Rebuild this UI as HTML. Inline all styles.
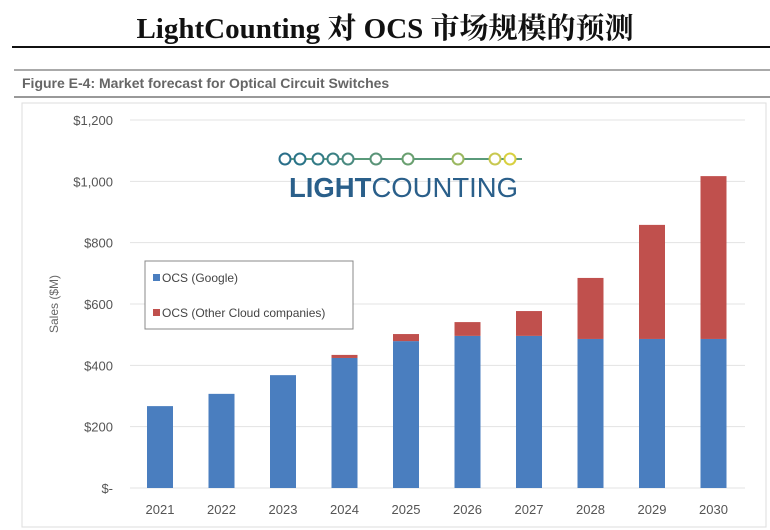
<!DOCTYPE html>
<html><head><meta charset="utf-8"><style>
body{margin:0;background:#fff;width:770px;height:530px;overflow:hidden;position:relative;font-family:"Liberation Sans",sans-serif}
</style></head><body>
<div style="position:absolute;left:0;top:6px;width:770px;text-align:center;font-family:'Liberation Serif','Noto Serif CJK SC',serif;font-weight:bold;font-size:29px;color:#111">LightCounting 对 OCS 市场规模的预测</div>
<div style="position:absolute;left:12px;top:46px;width:758px;height:2px;background:#111"></div>
<svg width="770" height="530" style="position:absolute;left:0;top:0">
<line x1="14" y1="70" x2="770" y2="70" stroke="#aaa" stroke-width="2"/>
<text x="22" y="88" font-size="14" font-weight="bold" fill="#666">Figure E-4: Market forecast for Optical Circuit Switches</text>
<line x1="14" y1="97" x2="770" y2="97" stroke="#999" stroke-width="2"/>
<rect x="22" y="103" width="744" height="424" fill="none" stroke="#ddd"/>
<g id="grid"></g><g id="bars"></g><g id="xl"></g>
<text transform="translate(58,304) rotate(-90)" text-anchor="middle" font-size="12" fill="#666">Sales ($M)</text>
<g>
<line x1="280" y1="159" x2="522" y2="159" stroke="#5a9a7a" stroke-width="2"/>
<g id="dots"></g>
<text x="289" y="197" font-size="28" fill="#2a5f8a" textLength="229" lengthAdjust="spacingAndGlyphs"><tspan font-weight="bold">LIGHT</tspan>COUNTING</text>
</g>
<g>
<rect x="145" y="261" width="208" height="68" fill="#fff" stroke="#888"/>
<rect x="153" y="274" width="7" height="7" fill="#4a7ebf"/>
<text x="162" y="282" font-size="12" fill="#444">OCS (Google)</text>
<rect x="153" y="309" width="7" height="7" fill="#c0504d"/>
<text x="162" y="317" font-size="12" fill="#444">OCS (Other Cloud companies)</text>
</g>
</svg>
<script>
const years=["2021","2022","2023","2024","2025","2026","2027","2028","2029","2030"];
const google=[267,307,368,424,479,496,496,486,486,486];
const other=[0,0,0,10,23,45,81,199,372,531];
const yTicks=[0,200,400,600,800,1000,1200];
const yTickLabels=["$-","$200","$400","$600","$800","$1,000","$1,200"];
const NS="http://www.w3.org/2000/svg";
const y=v=>488-v*(368/1200);
const x=i=>160+i*61.5;
function mk(t,a,p){const e=document.createElementNS(NS,t);for(const k in a)e.setAttribute(k,a[k]);p.appendChild(e);return e;}
const grid=document.getElementById('grid'),bars=document.getElementById('bars'),xl=document.getElementById('xl');
yTicks.forEach((v,i)=>{
 const l=mk('line',{x1:130,x2:745,y1:y(v),y2:y(v),stroke:'#e3e3e3'},grid);
 
 
 const t=mk('text',{x:113,y:y(v)+5,'text-anchor':'end','font-size':13,fill:'#555'},grid);
 t.textContent=yTickLabels[i];
 
 
});
years.forEach((yr,i)=>{
 const w=26;
 const b=mk('rect',{x:x(i)-w/2,y:y(google[i]),width:w,height:y(0)-y(google[i]),fill:'#4a7ebf'},bars);
 
 
 if(other[i]>0){
  const r=mk('rect',{x:x(i)-w/2,y:y(google[i]+other[i]),width:w,height:y(google[i])-y(google[i]+other[i]),fill:'#c0504d'},bars);
  
  
 }
 const t=mk('text',{x:x(i),y:514,'text-anchor':'middle','font-size':13,fill:'#555'},xl);
 t.textContent=yr;
 
 
});
const dots=document.getElementById('dots');
const dx=[285,300,318,333,348,376,408,458,495,510];
const dc=['#2a6f8a','#2a7488','#327b86','#3a8084','#4a8a80','#5a9478','#6aa070','#9ab860','#c8c850','#d8d040'];
dx.forEach((cx,i)=>{mk('circle',{cx:cx,cy:159,r:5.5,fill:'#fff',stroke:dc[i],'stroke-width':2},dots);});
</script>
</body></html>
